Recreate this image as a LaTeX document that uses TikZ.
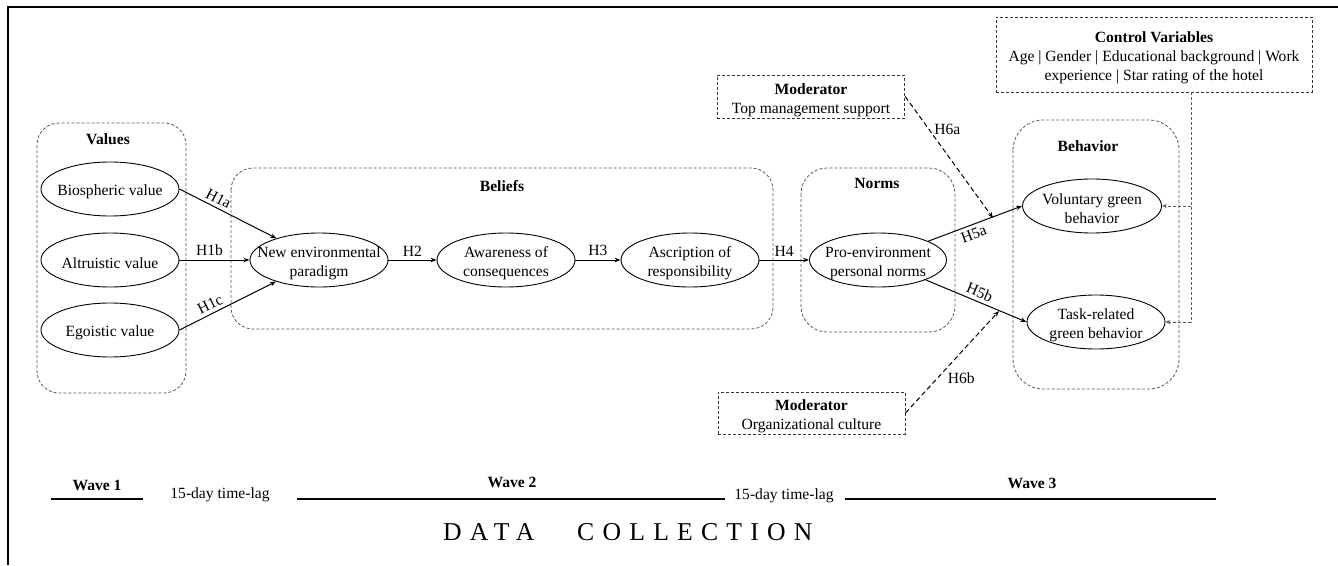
\documentclass[tikz,border=0pt]{standalone}
\usepackage{fontspec}
\setmainfont{Liberation Serif}
\newfontfamily\spacedfont[LetterSpace=32]{Liberation Serif}
\usetikzlibrary{arrows.meta,shapes.geometric,calc}
\newcommand\ellnode[5][138]{%
  \node[ell, minimum width=#1pt] (#2) at (#3,#4) {};
  \node[etxt] (#2t) at (#3,#4+3) {#5};}
\begin{document}
\begin{tikzpicture}[x=1pt,y=-1pt,
  font=\fontsize{15.6}{19}\selectfont,
  ell/.style={draw=black, line width=0.9pt, ellipse, minimum height=54pt, inner sep=0pt},
  etxt/.style={inner sep=0pt, align=center},
  grp/.style={draw=black!65, dash pattern=on 3pt off 2pt, line width=0.8pt, rounded corners=22pt},
  modbox/.style={draw=black!80, dash pattern=on 3pt off 2pt, line width=0.9pt, inner sep=0pt},
  arr/.style={-{Stealth[length=6pt,width=4.5pt]}, line width=1pt},
  modarr/.style={-{Stealth[length=6pt,width=4.5pt]}, dash pattern=on 5pt off 3pt, line width=1pt},
  ctl/.style={-{Stealth[length=5pt,width=4pt]}, draw=black!65, dash pattern=on 3pt off 2pt, line width=0.8pt},
  ttl/.style={font=\fontsize{15.6}{19}\selectfont\bfseries, inner sep=0pt},
  txt/.style={inner sep=0pt},
  hl/.style={inner sep=3.5pt},
  wave/.style={line width=2.4pt}
]
\useasboundingbox (0,0) rectangle (1338,565);
\fill[white] (0,0) rectangle (1338,565);
% frame
\draw[line width=1.4pt] (8,565) -- (8,7) -- (1338,7);

% group boxes
\draw[grp] (37,123) rectangle (186,393);
\draw[grp] (231,168) rectangle (773,329);
\draw[grp,rounded corners=26pt] (801,168) rectangle (955,332);
\draw[grp,rounded corners=30pt] (1013,120) rectangle (1179,389);

\node[ttl] (tval) at (108,139) {Values};
\node[ttl] (tbel) at (502,186) {Beliefs};
\node[ttl] (tnor) at (877,183) {Norms};
\node[ttl] (tbeh) at (1088,146) {Behavior};

% ellipses
\ellnode{bio}{110}{189}{Biospheric value}
\ellnode{alt}{110}{260}{Altruistic value}
\ellnode{ego}{110}{330}{Egoistic value}
\ellnode{nep}{319}{260}{New environmental\\paradigm}
\ellnode{aw}{506}{260}{Awareness of\\consequences}
\ellnode{asc}{690}{260}{Ascription of\\responsibility}
\ellnode[137]{pn}{878}{260}{Pro-environment\\personal norms}
\ellnode[139]{vg}{1092}{206}{Voluntary green\\behavior}
\ellnode{tg}{1096}{322}{Task-related\\green behavior}

% moderator and control boxes
\node[modbox, minimum width=187.5pt, minimum height=43pt] (tm) at (811,96.5) {};
\node[etxt] (tmt) at (811,100) {\textbf{Moderator}\\Top management support};
\node[modbox, minimum width=187pt, minimum height=42pt] (om) at (811.5,413) {};
\node[etxt] (omt) at (811.5,416.5) {\textbf{Moderator}\\Organizational culture};
\node[modbox, minimum width=316pt, minimum height=75pt] (ctrl) at (1154,54.5) {};
\node[etxt] (ctrlt) at (1154,58) {\textbf{Control Variables}\\Age | Gender | Educational background | Work\\experience | Star rating of the hotel};

% main arrows
\draw[arr] (bio.east) -- node[pos=.36, sloped, above, hl] (h1a) {H1a} (nep);
\draw[arr] (alt.east) -- node[pos=.43, above, hl] (h1b) {H1b} (nep.west);
\draw[arr] (ego.east) -- node[pos=.36, sloped, above, hl] (h1c) {H1c} (nep);
\draw[arr] (nep) -- node[above, hl] (h2) {H2} (aw);
\draw[arr] (aw) -- node[above, hl] (h3) {H3} (asc);
\draw[arr] (asc) -- node[above, hl] (h4) {H4} (pn);
\draw[arr] (pn) -- node[pos=.45, sloped, below, hl] (h5a) {H5a} (vg.west);
\draw[arr] (pn) -- node[pos=.5, sloped, above, hl] (h5b) {H5b} (tg.west);

% moderator arrows
\coordinate (m6a) at (993,218);
\coordinate (m6b) at (999,311);
\draw[modarr] (tm.east) -- node[pos=.27, right, inner sep=3pt, xshift=2pt] (h6a) {H6a} (m6a);
\draw[modarr] (om.east) -- node[pos=.34, right, inner sep=3pt, xshift=7pt] (h6b) {H6b} (m6b);

% control connectors
\coordinate (ctop) at (1191,92);
\draw[ctl] (ctop) |- (tg.east);
\draw[ctl] (ctop |- vg.east) -- (vg.east);

% timeline
\coordinate (w1a) at (51,499); \coordinate (w1b) at (143,499);
\coordinate (w2a) at (297,499); \coordinate (w2b) at (725,499);
\coordinate (w3a) at (845,499); \coordinate (w3b) at (1216,499);
\draw[wave] (w1a) -- (w1b);
\draw[wave] (w2a) -- (w2b);
\draw[wave] (w3a) -- (w3b);
\node[ttl] (wv1) at (97,485) {Wave 1};
\node[ttl] (wv2) at (512,482) {Wave 2};
\node[ttl] (wv3) at (1032,483) {Wave 3};
\node[txt] (lag1) at (220,495) {15-day time-lag};
\node[txt] (lag2) at (784,496) {15-day time-lag};
\node[txt, anchor=base west, font=\spacedfont\fontsize{25.7}{28}\selectfont] (dc1) at (443,540) {DATA};
\node[txt, anchor=base west, font=\spacedfont\fontsize{25.7}{28}\selectfont] (dc2) at (577,540) {COLLECTION};
\end{tikzpicture}
\end{document}
